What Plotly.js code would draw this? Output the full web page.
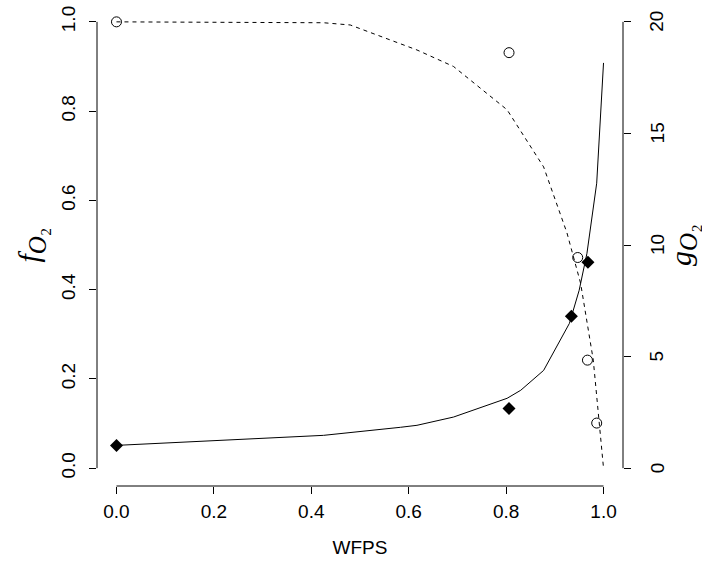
<!DOCTYPE html>
<html>
<head>
<meta charset="utf-8">
<script src="https://cdn.plot.ly/plotly-3.0.1.min.js"></script>
<style>html,body{margin:0;padding:0;background:#fff;}#chart{width:702px;height:562px;}</style>
</head>
<body>
<div id="chart"></div>
<script>
// Model curve for f_O2 (left axis, dashed)
var fCurveX = [0, 0.21, 0.425, 0.48, 0.542, 0.617, 0.692, 0.802, 0.877, 0.925, 0.953, 0.979, 1.0];
var fCurveY = [1.0, 0.999, 0.998, 0.993, 0.967, 0.937, 0.90, 0.803, 0.675, 0.527, 0.414, 0.242, 0.0];
// Model curve for g_O2 (right axis, solid)
var gCurveX = [0, 0.425, 0.583, 0.617, 0.692, 0.802, 0.83, 0.877, 0.93, 0.95, 0.966, 0.986, 1.0];
var gCurveY = [1.02, 1.47, 1.83, 1.92, 2.29, 3.13, 3.49, 4.38, 6.49, 7.97, 9.63, 12.77, 18.16];
// Observations
var fObsX = [0, 0.806, 0.947, 0.967, 0.986];
var fObsY = [1.0, 0.931, 0.472, 0.242, 0.101];
var gObsX = [0, 0.806, 0.934, 0.968];
var gObsY = [1.02, 2.67, 6.81, 9.23];
// Tick labels
var xTicks = [0, 0.2, 0.4, 0.6, 0.8, 1.0];
var xTickText = ["0.0", "0.2", "0.4", "0.6", "0.8", "1.0"];
var yTicks = [0, 0.2, 0.4, 0.6, 0.8, 1.0];
var yTickText = ["0.0", "0.2", "0.4", "0.6", "0.8", "1.0"];
var y2Ticks = [0, 5, 10, 15, 20];
var y2TickText = ["0", "5", "10", "15", "20"];

var traces = [
  {x: fCurveX, y: fCurveY, type: 'scatter', mode: 'lines', yaxis: 'y',
   line: {color: '#000', width: 1, dash: '4px,4px'}, hoverinfo: 'skip'},
  {x: gCurveX, y: gCurveY, type: 'scatter', mode: 'lines', yaxis: 'y2',
   line: {color: '#000', width: 1}, hoverinfo: 'skip'},
  {x: fObsX, y: fObsY, type: 'scatter', mode: 'markers', yaxis: 'y',
   marker: {symbol: 'circle-open', size: 10, color: '#000', line: {width: 1, color: '#000'}}},
  {x: gObsX, y: gObsY, type: 'scatter', mode: 'markers', yaxis: 'y2',
   marker: {symbol: 'diamond', size: 10, color: '#000', line: {width: 0}}}
];

var sans = 'Liberation Sans, Arial, sans-serif';
var tickFont = {family: sans, size: 19, color: '#000'};
var mathFont = {family: 'Liberation Serif, DejaVu Serif, serif', size: 30, color: '#000'};

// Right-axis tick labels placed with the y2 scale (rotated like R's side-4 labels)
var y2Labels = y2Ticks.map(function (v, i) {
  return {xref: 'paper', x: 1, yref: 'y2', y: v, text: y2TickText[i],
          showarrow: false, textangle: -90, xanchor: 'center', yanchor: 'middle',
          xshift: 34, font: tickFont};
});

var layout = {
  width: 702, height: 562,
  paper_bgcolor: '#fff', plot_bgcolor: '#fff',
  showlegend: false,
  margin: {l: 97, r: 79, t: 4, b: 76, pad: 0},
  xaxis: {
    range: [-0.04, 1.04],
    tickvals: xTicks, ticktext: xTickText,
    ticks: 'outside', ticklen: 7, tickwidth: 1, tickcolor: '#000',
    ticklabelstandoff: 1,
    showline: false, showgrid: false, zeroline: false,
    tickfont: tickFont,
    title: {text: 'WFPS', font: {family: sans, size: 19, color: '#000'}, standoff: 19}
  },
  yaxis: {
    range: [-0.04, 1.04],
    tickvals: yTicks, ticktext: yTickText, tickangle: -90,
    ticks: 'outside', ticklen: 7, tickwidth: 1, tickcolor: '#000',
    ticklabelstandoff: 6,
    showline: false, showgrid: false, zeroline: false,
    tickfont: tickFont,
    title: {text: '<i>f</i><sub><span style="font-size:25px"><i>O</i>\u2082</span></sub>', font: mathFont, standoff: 9}
  },
  yaxis2: {
    range: [-0.8, 20.8], overlaying: 'y', side: 'right', anchor: 'x',
    tickvals: y2Ticks, showticklabels: false,
    ticks: 'outside', ticklen: 7, tickwidth: 1, tickcolor: '#000',
    showline: false, showgrid: false, zeroline: false,
    title: {text: '<i>g</i><sub><span style="font-size:25px"><i>O</i>\u2082</span></sub>', font: mathFont, standoff: 56}
  },
  annotations: y2Labels,
  shapes: [
    {type: 'line', xref: 'x', yref: 'paper', x0: 0, x1: 1, y0: 0, y1: 0, line: {color: '#000', width: 1}},
    {type: 'line', xref: 'paper', yref: 'y', x0: 0, x1: 0, y0: 0, y1: 1, line: {color: '#000', width: 1}},
    {type: 'line', xref: 'paper', yref: 'y2', x0: 1, x1: 1, y0: 0, y1: 20, line: {color: '#000', width: 1}}
  ]
};

Plotly.newPlot('chart', traces, layout, {displayModeBar: false, staticPlot: true});
</script>
</body>
</html>
